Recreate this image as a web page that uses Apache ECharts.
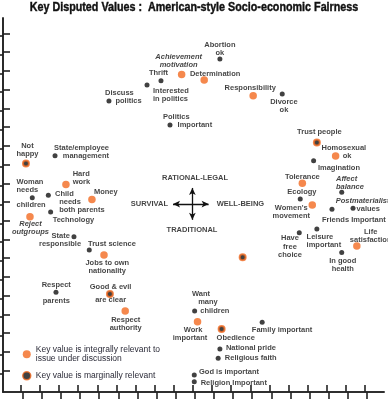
<!DOCTYPE html>
<html><head><meta charset="utf-8">
<script src="https://cdn.jsdelivr.net/npm/echarts@6/dist/echarts.min.js"></script>
<style>html,body{margin:0;padding:0;background:#fff}#c{width:388px;height:400px}</style>
</head><body><div id="c"></div>
<script>
// ---------------- DATA ----------------
const titleText = 'Key Disputed Values :  American-style Socio-economic Fairness';

// Key values integrally relevant (orange)
const integralNames = ['Achievement motivation','Determination','Responsibility','Homosexual ok','Tolerance',"Women's movement",'Life satisfaction','Work important','Hard work','Money','Reject outgroups','Jobs to own nationality','Respect authority'];
const integralX = [9.34,10.52,13.08,17.39,15.65,16.17,18.50,10.17,3.29,4.65,1.41,5.28,6.39];
const integralY = [16.95,16.65,15.81,12.59,11.14,9.98,7.79,3.75,11.08,10.28,9.35,7.31,4.32];

// Key values marginally relevant (orange ring, black centre)
const marginalNames = ['Trust people','','Obedience','Not happy','Good & evil are clear'];
const marginalX = [16.41,12.53,11.43,1.20,5.59];
const marginalY = [13.32,7.19,3.36,12.20,5.23];

// Other values (black)
const otherNames = ['Abortion ok','Thrift','Interested in politics','Discuss politics','Politics Important','Divorce ok','Imagination','Affect balance','Ecology','Friends Important','Postmaterialist values','Have free choice','Leisure important','In good health','Want many children','Family important','National pride','Religious faith','God is important','Religion Important','State/employee management','Woman needs children','Child needs both parents','Technology','State responsible','Trust science','Respect parents'];
const otherX = [11.34,8.26,7.53,5.54,8.73,14.60,16.24,17.71,15.54,17.20,18.30,15.49,16.41,17.71,10.02,13.55,11.34,11.25,10.00,10.00,2.72,1.53,2.37,2.49,3.71,4.51,2.77];
const otherY = [17.77,16.61,16.38,15.53,14.25,15.90,12.34,10.66,10.30,9.75,9.80,8.50,8.70,7.45,4.32,3.72,2.29,1.80,0.91,0.55,12.61,10.37,10.50,9.61,8.29,7.58,5.32];

// Central dimension cross
const dimNames = ['RATIONAL-LEGAL','SURVIVAL','WELL-BEING','TRADITIONAL'];
const dimX = [10.04,8.63,11.17,9.88];
const dimY = [11.42,10.06,10.02,8.67];
const crossV = [[9.90,9.19],[9.90,10.89]];
const crossH = [[8.89,10.03],[10.75,10.03]];

const legendText = {
  integral: 'Key value is integrally relevant to\nissue under discussion',
  marginal: 'Key value is marginally relevant'
};

// Label texts (line breaks as in the picture)
const labelText = {
  'Achievement motivation':'{i|Achievement}\n{i|motivation}',
  'Homosexual ok':'Homosexual\n   ok',
  "Women's movement":"Women's\nmovement",
  'Life satisfaction':'Life\nsatisfaction',
  'Work important':'   Work\nimportant',
  'Hard work':'Hard\nwork',
  'Reject outgroups':'{i|Reject}\n{i|outgroups}',
  'Jobs to own nationality':'Jobs to own\nnationality',
  'Respect authority':'Respect\nauthority',
  'Not happy':'Not\nhappy',
  'Good & evil are clear':'Good & evil\nare clear',
  'Abortion ok':'Abortion\nok',
  'Interested in politics':'Interested\nin politics',
  'Discuss politics':'Discuss\n     politics',
  'Politics Important':'Politics\n       Important',
  'Divorce ok':'Divorce\nok',
  'Affect balance':'{i|Affect}\n{i|balance}',
  'Postmaterialist values':'{i|Postmaterialist}\n          values',
  'Have free choice':'Have\nfree\nchoice',
  'Leisure important':'Leisure\nimportant',
  'In good health':'In good\nhealth',
  'Want many children':'Want\n   many\n    children',
  'State/employee management':'State/employee\nmanagement',
  'Woman needs children':'Woman\nneeds\n\nchildren',
  'Child needs both parents':'Child\n  needs\n  both parents',
  'State responsible':'      State\nresponsible',
  'Respect parents':'Respect\nparents'
};

// ---------------- LABEL PLACEMENT (style, not data) ----------------
// [align, dx, dy, lineHeight]
const placement = {
  'Achievement motivation':['center',-3,-13],
  'Determination':['left',-14.3,-6],
  'Responsibility':['center',-3,-8],
  'Homosexual ok':['center',8.3,-4],
  'Tolerance':['center',0,-6.6],
  "Women's movement":['center',-21,7],
  'Life satisfaction':['center',13.8,-10.5],
  'Work important':['center',-7.5,12.5],
  'Hard work':['left',6.7,-6.8],
  'Money':['left',2,-7],
  'Reject outgroups':['center',0.5,11],
  'Jobs to own nationality':['center',3.3,11.7],
  'Respect authority':['center',0.5,13.2],
  'Trust people':['center',2.5,-10.6],
  'Obedience':['left',-5,8.7],
  'Not happy':['center',1.5,-13.3],
  'Good & evil are clear':['center',0.7,-0.3,12.7],
  'Abortion ok':['center',0,-10.5],
  'Thrift':['center',-2.5,-7.4],
  'Interested in politics':['left',6,9.5],
  'Discuss politics':['left',-4,-4],
  'Politics Important':['left',-7,-4],
  'Divorce ok':['center',1.7,11.8],
  'Imagination':['left',4.3,7],
  'Affect balance':['left',-5.7,-9.5],
  'Ecology':['center',1.7,-7],
  'Friends Important':['left',-10,11],
  'Postmaterialist values':['left',-17.3,-3],
  'Have free choice':['center',-9.3,14,8.3],
  'Leisure important':['left',-10.3,11.5],
  'In good health':['center',1,12.2],
  'Want many children':['left',-2.7,-9,8.5],
  'Family important':['left',-10.3,7.7],
  'National pride':['left',6,-1.3],
  'Religious faith':['left',6.7,0],
  'God is important':['left',4.7,-3.3],
  'Religion Important':['left',6.4,1.6],
  'State/employee management':['right',54,-3.5],
  'Woman needs children':['left',-15.8,-3.9,7.7],
  'Child needs both parents':['left',6.7,6.9],
  'Technology':['left',2,8],
  'State responsible':['left',-35,3.3],
  'Trust science':['left',-1.3,-6],
  'Respect parents':['center',0.3,0.5,15.7],
  'RATIONAL-LEGAL':['center',0,0],
  'SURVIVAL':['right',0,0],
  'WELL-BEING':['left',0,0],
  'TRADITIONAL':['center',0,0]
};

// ---------------- CHART ----------------
const ORANGE = '#f26a21';
const INK = '#111';
const FONT = '"Liberation Sans", Arial, Helvetica, sans-serif';
const FS = 7.5;

function labelFor(n){
  const p = placement[n];
  if(!p) return {show:false};
  return {show:true, position:'inside', align:p[0], verticalAlign:'middle',
          offset:[p[1],p[2]], lineHeight:p[3]||8, formatter: labelText[n] || n};
}
function pts(names, xs, ys){
  return names.map((n,i)=>({name:n, value:[xs[i], ys[i]], label:labelFor(n)}));
}
const baseLabel = {show:true, fontSize:FS, fontWeight:'bold', color:INK, fontFamily:FONT,
  rich:{ i:{fontStyle:'italic', fontWeight:'bold', fontSize:FS, fontFamily:FONT, color:INK, lineHeight:8} } };

function ticks(start){ const a=[]; for(let k=0;k<19;k++) a.push(+(start+k).toFixed(2)); return a; }

const X_MAX = 19.92, Y_MAX = 19.96;
const frameLine = {show:true, lineStyle:{color:'#222', width:1.6}};
function axisTick(vals){ return {show:true, inside:true, length:7, lineStyle:{color:'#222', width:1.6}, customValues:vals}; }

const chart = echarts.init(document.getElementById('c'), null, {renderer:'canvas', width:388, height:400});
chart.setOption({
  animation:false,
  backgroundColor:'#fff',
  graphic:[{
    type:'text', x:194, y:8, scaleX:0.86, silent:true,
    style:{text:titleText, fill:INK, stroke:INK, lineWidth:0.4,
      font:'bold 12.5px "Liberation Sans", Arial, sans-serif', textAlign:'center', textVerticalAlign:'middle'}
  }],
  grid:{left:3, right:4, top:18, bottom:8, show:false},
  xAxis:[
    {type:'value', position:'bottom', min:0, max:X_MAX, axisLine:frameLine, axisTick:axisTick(ticks(0.93)), axisLabel:{show:false}, splitLine:{show:false}},
    {type:'value', position:'top', min:0, max:X_MAX, axisLine:frameLine, axisTick:axisTick(ticks(1.03)), axisLabel:{show:false}, splitLine:{show:false}}
  ],
  yAxis:[
    {type:'value', position:'left', min:0, max:Y_MAX, axisLine:frameLine, axisTick:axisTick(ticks(1.14)), axisLabel:{show:false}, splitLine:{show:false}},
    {type:'value', position:'right', min:0, max:Y_MAX, axisLine:frameLine, axisTick:axisTick(ticks(1.0)), axisLabel:{show:false}, splitLine:{show:false}}
  ],
  legend:{
    orient:'vertical', left:17, top:340, itemWidth:8, itemHeight:8, itemGap:7.5, icon:'circle',
    data:['integral',{name:'marginal', itemStyle:{borderWidth:1.5}}],
    formatter:n=>legendText[n],
    textStyle:{fontSize:8.5, color:'#2b2b38', fontFamily:FONT, lineHeight:9.3}
  },
  series:[
    {name:'other', type:'scatter', symbol:'circle', symbolSize:5, itemStyle:{color:INK},
     label:baseLabel, data:pts(otherNames, otherX, otherY), z:3},
    {name:'integral', type:'scatter', symbol:'circle', symbolSize:7.5, itemStyle:{color:ORANGE},
     label:baseLabel, data:pts(integralNames, integralX, integralY), z:4},
    {name:'marginal', type:'scatter', symbol:'circle', symbolSize:6, itemStyle:{color:INK, borderColor:ORANGE, borderWidth:2},
     label:baseLabel, data:pts(marginalNames, marginalX, marginalY), z:5},
    {name:'dimensions', type:'scatter', symbolSize:0, silent:true,
     label:baseLabel, data:pts(dimNames, dimX, dimY),
     markLine:{silent:true, symbol:['arrow','arrow'], symbolSize:[5,7], label:{show:false},
       lineStyle:{color:INK, width:1.3, type:'solid'},
       data:[[{coord:crossV[0]},{coord:crossV[1]}],[{coord:crossH[0]},{coord:crossH[1]}]]}}
  ]
});
</script>
</body></html>
